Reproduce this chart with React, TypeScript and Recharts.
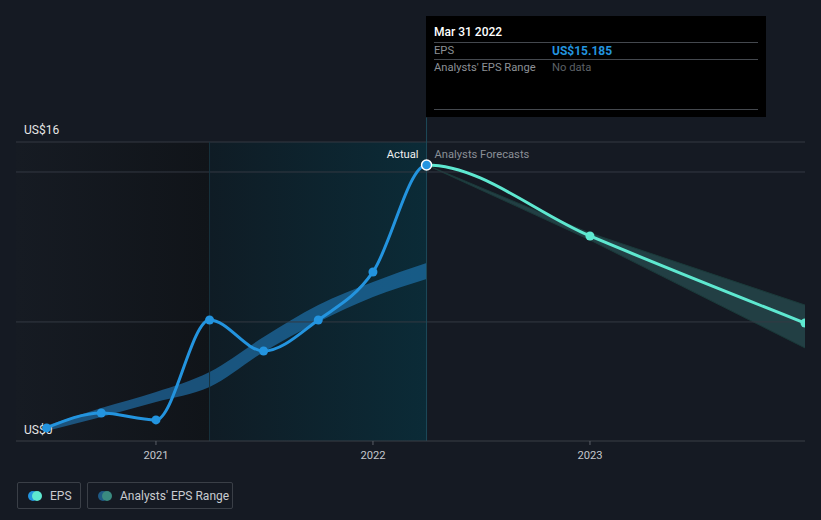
import {
  ComposedChart,
  Line,
  Area,
  XAxis,
  YAxis,
  ReferenceLine,
  ReferenceArea,
} from "recharts";

// dates as decimal years
const actualDates = [2020.496, 2020.748, 2021.0, 2021.247, 2021.496, 2021.748, 2022.0, 2022.247];
const actualEps = [0.72, 1.54, 1.16, 6.66, 4.95, 6.66, 9.3, 15.185];
const pastRangeLow = [0.55, 1.32, 2.15, 2.97, 4.9, 6.55, 7.92, 8.91];
const pastRangeHigh = [0.85, 1.82, 2.7, 3.8, 5.72, 7.48, 8.75, 9.79];

const forecastDates = [2022.247, 2023.0, 2023.991];
const forecastEps = [15.185, 11.28, 6.49];
const forecastLow = [15.185, 11.06, 5.12];
const forecastHigh = [15.185, 11.44, 7.48];

const xTicks = [2021, 2022, 2023];
const yTicks = [16, 0];
const yTickLabels = ["US$16", "US$0"];
const gridValues = [16.45, 14.8, 6.55];

const lastYearStart = 2021.247;
const todayX = 2022.247;
const xDomain = [2020.355, 2023.991];
const yDomain = [0, 16.45];

const actualData = actualDates.map((d, i) => ({
  date: d,
  eps: actualEps[i],
  range: [pastRangeLow[i], pastRangeHigh[i]],
}));
const forecastData = forecastDates.map((d, i) => ({
  date: d,
  eps: forecastEps[i],
  range: [forecastLow[i], forecastHigh[i]],
}));
// actual + forecast smoothed as one curve, coloured by a hard gradient stop at today
const epsLineData = [...actualData, ...forecastData.slice(1)];

const font = "Roboto, 'Noto Sans', sans-serif";
const small = 11.2;
const blue = "#2394df";
const teal = "#5ee8d0";

const YLabel = (props: any) => {
  const { viewBox, text, value } = props;
  return (
    <text x={24} y={viewBox.y + (value === 0 ? -7 : -16)} fill="#e6e6e6" fontSize={12} fontFamily={font}>
      {text}
    </text>
  );
};

const TodayLabel = (props: any) => {
  const { viewBox } = props;
  const x = viewBox.x;
  return (
    <g fontFamily={font} fontSize={small}>
      <text x={x - 8} y={158} textAnchor="end" fill="#f0f0f0">Actual</text>
      <text x={x + 8} y={158} textAnchor="start" fill="#8a8f96">Analysts Forecasts</text>
    </g>
  );
};

const EpsDot = (props: any) => {
  const { cx, cy, index } = props;
  const last = actualData.length - 1;
  if (index === last) {
    return <circle key={index} cx={cx} cy={cy} r={5} fill={blue} stroke="#ffffff" strokeWidth={1.5} />;
  }
  return <circle key={index} cx={cx} cy={cy} r={4.5} fill={index < last ? blue : teal} />;
};

export default function App() {
  return (
    <div
      style={{
        position: "fixed",
        left: 0,
        top: 0,
        width: 821,
        height: 520,
        background: "#151a23",
        fontFamily: font,
      }}
    >
      <ComposedChart width={821} height={520} margin={{ top: 142, right: 16, bottom: 49, left: 16 }}>
        <defs>
          <linearGradient id="pastShade" x1="0" y1="0" x2="1" y2="0">
            <stop offset="0%" stopColor="#161b23" />
            <stop offset="100%" stopColor="#101419" />
          </linearGradient>
          <linearGradient id="yearShade" x1="0" y1="0" x2="1" y2="0">
            <stop offset="0%" stopColor="#0f1c25" />
            <stop offset="100%" stopColor="#0b2b37" />
          </linearGradient>
          <linearGradient id="epsStroke" gradientUnits="userSpaceOnUse" x1={0} y1={0} x2={821} y2={0}>
            <stop offset={426.5 / 821} stopColor={blue} />
            <stop offset={426.5 / 821} stopColor={teal} />
          </linearGradient>
        </defs>
        <XAxis
          type="number"
          dataKey="date"
          domain={xDomain}
          ticks={xTicks}
          allowDataOverflow
          tickFormatter={(v) => String(v)}
          axisLine={{ stroke: "#3a3f47" }}
          tickLine={{ stroke: "#5a5f67" }}
          tickSize={4}
          tickMargin={6}
          height={30}
          tick={{ fill: "#c4c7cc", fontSize: small, fontFamily: font }}
        />
        <YAxis type="number" domain={yDomain} allowDataOverflow hide />
        <ReferenceArea x1={xDomain[0]} x2={lastYearStart} y1={yDomain[0]} y2={yDomain[1]} fill="url(#pastShade)" fillOpacity={1} stroke="none" />
        <ReferenceArea x1={lastYearStart} x2={todayX} y1={yDomain[0]} y2={yDomain[1]} fill="url(#yearShade)" fillOpacity={1} stroke="none" />
        {gridValues.map((v) => (
          <ReferenceLine key={v} y={v} stroke="#343942" strokeWidth={1} />
        ))}
        <ReferenceLine x={lastYearStart} stroke="#18323d" strokeWidth={1} />
        <ReferenceLine
          segment={[
            { x: todayX, y: 17.8 },
            { x: todayX, y: 0 },
          ]}
          ifOverflow="visible"
          stroke="#1d4a5a"
          strokeWidth={1}
        />
        <ReferenceLine x={todayX} stroke="none" label={<TodayLabel />} />
        {yTicks.map((v, i) => (
          <ReferenceLine
            key={"yl" + v}
            y={v}
            stroke="none"
            ifOverflow="visible"
            label={<YLabel text={yTickLabels[i]} value={v} />}
          />
        ))}
        <Area
          data={actualData}
          dataKey="range"
          type="monotone"
          fill="#2383c8"
          fillOpacity={0.55}
          stroke="none"
          isAnimationActive={false}
          activeDot={false}
        />
        <Area
          data={forecastData}
          dataKey="range"
          type="linear"
          fill="#3f8f8c"
          fillOpacity={0.32}
          stroke="#1b3a3a"
          strokeWidth={1}
          isAnimationActive={false}
          activeDot={false}
        />
        <Line
          data={epsLineData}
          dataKey="eps"
          type="monotone"
          stroke="url(#epsStroke)"
          strokeWidth={3}
          dot={<EpsDot />}
          isAnimationActive={false}
          activeDot={false}
        />
      </ComposedChart>

      {/* hover box */}
      <div
        style={{
          position: "absolute",
          left: 426,
          top: 16,
          width: 340,
          height: 101,
          background: "#000000",
          fontSize: small,
        }}
      >
        <div style={{ position: "absolute", left: 8, top: 9, color: "#ffffff", fontWeight: 500, fontSize: 12 }}>Mar 31 2022</div>
        <div style={{ position: "absolute", left: 8, right: 8, top: 26, borderTop: "1px solid #44484e" }} />
        <div style={{ position: "absolute", left: 8, top: 28, color: "#8c9096" }}>EPS</div>
        <div style={{ position: "absolute", left: 126, top: 28, color: blue, fontWeight: 700, fontSize: 12 }}>US$15.185</div>
        <div style={{ position: "absolute", left: 8, right: 8, top: 43, borderTop: "1px solid #44484e" }} />
        <div style={{ position: "absolute", left: 8, top: 45, color: "#8c9096" }}>Analysts' EPS Range</div>
        <div style={{ position: "absolute", left: 126, top: 45, color: "#5c6066" }}>No data</div>
        <div style={{ position: "absolute", left: 8, right: 8, top: 93, borderTop: "1px solid #44484e" }} />
      </div>

      {/* legend */}
      <div style={{ position: "absolute", left: 17, top: 482, display: "flex", gap: 6 }}>
        {[
          { label: "EPS", c1: blue, c2: teal, w: 64 },
          { label: "Analysts' EPS Range", c1: "#1f5a85", c2: "#3a8a80", w: 146 },
        ].map((item) => (
          <div
            key={item.label}
            style={{
              boxSizing: "border-box",
              width: item.w,
              flexShrink: 0,
              whiteSpace: "nowrap",
              height: 27,
              border: "1px solid #3a3f47",
              borderRadius: 2,
              display: "flex",
              alignItems: "center",
              paddingLeft: 10,
              color: "#c9ccd0",
              fontSize: 12,
            }}
          >
            <svg width={14} height={10} style={{ marginRight: 8, flexShrink: 0 }}>
              <circle cx={5} cy={5} r={5} fill={item.c1} />
              <circle cx={9} cy={5} r={5} fill={item.c2} />
            </svg>
            {item.label}
          </div>
        ))}
      </div>
    </div>
  );
}
